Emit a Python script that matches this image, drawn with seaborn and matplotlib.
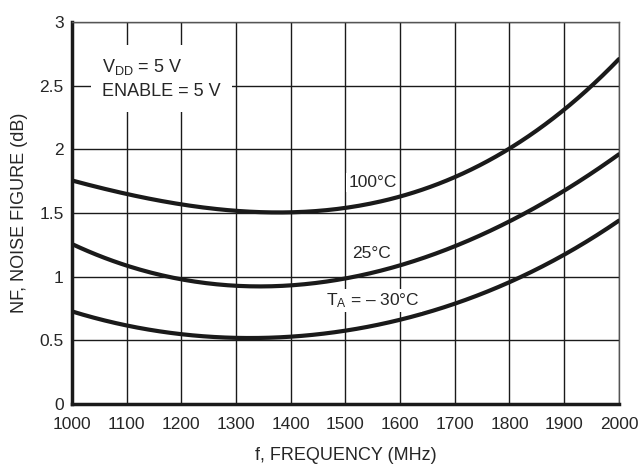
import pandas as pd
import numpy as np
import matplotlib
matplotlib.use('Agg')
import matplotlib.pyplot as plt
import seaborn as sns

# frequency points (MHz) and noise figure (dB)
freq = [1000, 1100, 1200, 1300, 1400, 1500, 1600, 1700, 1800, 1900, 2000]
nf_100c = [1.75, 1.66, 1.57, 1.51, 1.49, 1.55, 1.64, 1.78, 2.00, 2.31, 2.71]
nf_25c = [1.26, 1.08, 0.975, 0.94, 0.93, 0.99, 1.08, 1.23, 1.45, 1.67, 1.96]
nf_m30c = [0.73, 0.61, 0.55, 0.525, 0.53, 0.57, 0.66, 0.79, 0.96, 1.17, 1.44]

x_ticks = [1000, 1100, 1200, 1300, 1400, 1500, 1600, 1700, 1800, 1900, 2000]
y_ticks = [0, 0.5, 1, 1.5, 2, 2.5, 3]

sns.set_style('white')
fam = ['Liberation Sans Narrow', 'Liberation Sans', 'DejaVu Sans']
plt.rcParams['font.family'] = fam
plt.rcParams['mathtext.fontset'] = 'custom'
plt.rcParams['mathtext.rm'] = 'Liberation Sans'
plt.rcParams['mathtext.it'] = 'Liberation Sans'

df = pd.DataFrame({
    'freq': freq * 3,
    'nf': nf_100c + nf_25c + nf_m30c,
    'temp': ['100'] * len(freq) + ['25'] * len(freq) + ['-30'] * len(freq),
})

fig = plt.figure(figsize=(6.42, 4.66), dpi=100)
ax = fig.add_axes([0.112, 0.133, 0.852, 0.820])

# smooth the curves a bit for drawing
for t in ['100', '25', '-30']:
    sub = df[df['temp'] == t]
    xs = np.linspace(1000, 2000, 201)
    coef = np.polyfit(sub['freq'], sub['nf'], 4)
    ys = np.polyval(coef, xs)
    sns.lineplot(x=xs, y=ys, ax=ax, color='#1a1a1a', linewidth=3, zorder=3)

ax.set_xlim(1000, 2000)
ax.set_ylim(0, 3)
ax.set_xticks(x_ticks)
ax.set_yticks(y_ticks)
ax.set_yticklabels(['0', '0.5', '1', '1.5', '2', '2.5', '3'])
ax.grid(True, color='#1a1a1a', linewidth=1.0)
ax.tick_params(axis='both', length=0, labelsize=12.5)
ax.tick_params(axis='x', pad=9)
ax.tick_params(axis='y', pad=6)

for s in ['left', 'bottom']:
    ax.spines[s].set_linewidth(2.5)
    ax.spines[s].set_color('#1a1a1a')
for s in ['top', 'right']:
    ax.spines[s].set_linewidth(1.0)
    ax.spines[s].set_color('#555555')

ax.set_xlabel('f, FREQUENCY (MHz)', fontsize=13, labelpad=11)
ax.set_ylabel('NF, NOISE FIGURE (dB)', fontsize=13, labelpad=8)

box = dict(facecolor='white', edgecolor='none', pad=1.5)
ax.text(1055, 2.555, 'V$_{\\mathrm{DD}}$ = 5 V\nENABLE = 5 V', fontsize=13,
        va='center', ha='left', bbox=dict(facecolor='white', edgecolor='none', pad=8),
        linespacing=1.5, zorder=4)
ax.text(1550, 1.74, '100°C', fontsize=12.5, va='center', ha='center', bbox=box, zorder=4)
ax.text(1548, 1.18, '25°C', fontsize=12.5, va='center', ha='center', bbox=box, zorder=4)
ax.text(1550, 0.81, 'T$_{\\mathrm{A}}$ = – 30°C', fontsize=12.5, va='center', ha='center',
        bbox=box, zorder=4)

fig.savefig('out.png', dpi=100)
